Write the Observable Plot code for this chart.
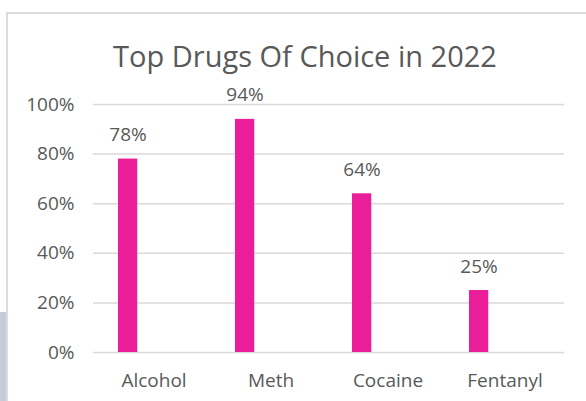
<!DOCTYPE html>
<html>
<head>
<meta charset="utf-8">
<script src="https://cdn.jsdelivr.net/npm/d3@7"></script>
<script src="https://cdn.jsdelivr.net/npm/@observablehq/plot@0.6"></script>
<style>
  html, body { margin: 0; padding: 0; background: #fff; }
  #wrap { position: relative; width: 586px; height: 401px; overflow: hidden; background: #fff; }
  #frame { position: absolute; left: 6px; top: 12px; width: 600px; height: 400px;
           border-top: 2px solid #dcdcdc; border-left: 2px solid #dcdcdc; box-sizing: border-box; }
  #side { position: absolute; left: 0; top: 312px; width: 6px; height: 89px; background: #c6cbd9; }
  #chart { position: absolute; left: 0; top: 0; }
  #chart svg { background: transparent; }
</style>
</head>
<body>
<div id="wrap">
  <div id="side"></div>
  <div id="frame"></div>
  <div id="chart"></div>
</div>
<script>
const title = "Top Drugs Of Choice in 2022";
const drugs = ["Alcohol", "Meth", "Cocaine", "Fentanyl"];
const shares = [0.78, 0.94, 0.64, 0.25];
const yTicks = [0, 0.2, 0.4, 0.6, 0.8, 1.0];

const data = drugs.map((d, i) => ({drug: d, value: shares[i]}));
const textColor = "#595959";
const font = "'Open Sans', sans-serif";

const chart = Plot.plot({
  width: 586,
  height: 401,
  marginLeft: 93,
  marginRight: 22,
  marginTop: 104,
  marginBottom: 49,
  style: {fontFamily: font, color: textColor, background: "transparent"},
  x: {domain: drugs, padding: 0, label: null},
  y: {domain: [0, 1], label: null},
  marks: [
    Plot.ruleY(yTicks, {stroke: "#d9d9d9", strokeWidth: 1.5}),
    Plot.barY(data, {x: "drug", y: "value", fill: "#e91e98", insetLeft: 23, insetRight: 74.75}),
    Plot.text(data, {x: "drug", y: "value", text: d => Math.round(d.value * 100) + "%",
      dx: -26, dy: -24, fontSize: 19, fill: textColor, lineAnchor: "middle"}),
    Plot.axisY({ticks: yTicks, tickSize: 0, tickPadding: 19, tickFormat: d => Math.round(d * 100) + "%",
      fontSize: 19, fill: textColor, label: null}),
    Plot.axisX({tickSize: 0, tickPadding: 21, fontSize: 19, fill: textColor, label: null}),
    Plot.text([title], {frameAnchor: "top", dx: -24, dy: -47, fontSize: 29, fill: textColor, lineAnchor: "middle"})
  ]
});
document.getElementById("chart").appendChild(chart);
</script>
</body>
</html>
